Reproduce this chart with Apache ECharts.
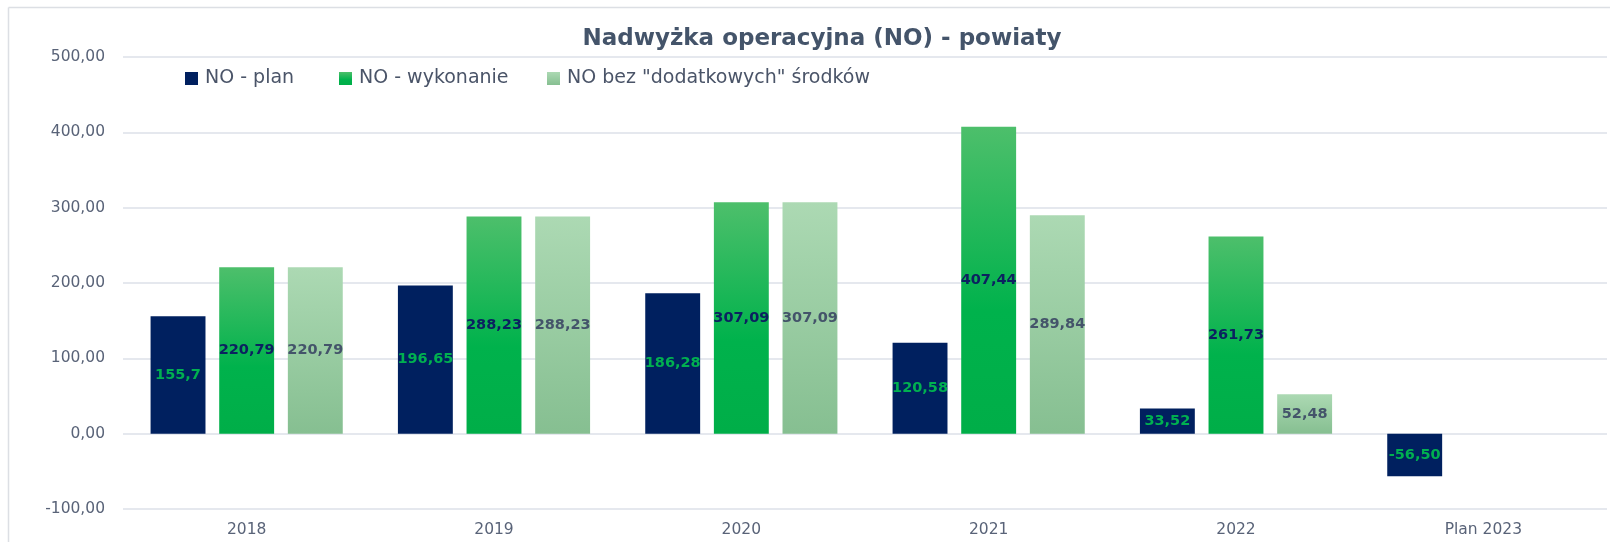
<!DOCTYPE html>
<html>
<head>
<meta charset="utf-8">
<script src="https://cdn.jsdelivr.net/npm/echarts@6/dist/echarts.min.js"></script>
<style>
  html, body { margin: 0; padding: 0; background: #fff; }
  #chart { width: 1610px; height: 542px; }
</style>
</head>
<body>
<div id="chart"></div>
<script>
  // kategorie i dane (mln zł)
  var years = ['2018', '2019', '2020', '2021', '2022', 'Plan 2023']
  var seriesNames = ['NO - plan', 'NO - wykonanie', 'NO bez "dodatkowych" środków']
  var noPlan = [155.7, 196.65, 186.28, 120.58, 33.52, -56.50]
  var planDecimals = [1, 2, 2, 2, 2, 2]
  var noWykonanie = [220.79, 288.23, 307.09, 407.44, 261.73, null]
  var noBezDodatkowych = [220.79, 288.23, 307.09, 289.84, 52.48, null]
  var yTicks = { min: -100, max: 500, step: 100 }

  var font = 'DejaVu Sans'
  var greyText = '#596378'

  function fmt(v, d) {
    return v.toFixed(d).replace('.', ',')
  }

  // każdy wpis legendy osobno, żeby trafić w pozycje z oryginału
  var legendLeft = [180, 334, 542]
  var legends = seriesNames.map(function (name, i) {
    return {
      left: legendLeft[i],
      top: 64,
      itemWidth: 13,
      itemHeight: 13,
      icon: 'rect',
      textStyle: { fontFamily: font, fontSize: 19, color: '#4a5468', padding: [0, 0, 0, 2] },
      data: [name]
    }
  })

  var myChart = echarts.init(document.getElementById('chart'))
  var option = {
    animation: false,
    title: {
      text: 'Nadwyżka operacyjna (NO) - powiaty',
      left: 817,
      textAlign: 'center',
      top: 23,
      textStyle: { fontFamily: font, fontSize: 23, fontWeight: 'bold', color: '#44546a' }
    },
    legend: legends,
    graphic: [
      { type: 'line', shape: { x1: 8.5, y1: 7.5, x2: 8.5, y2: 542 }, style: { stroke: '#dcdfe4', lineWidth: 1.5 } },
      { type: 'line', shape: { x1: 8.5, y1: 7.5, x2: 1610, y2: 7.5 }, style: { stroke: '#dcdfe4', lineWidth: 1.5 } }
    ],
    grid: { left: 123, right: 3, top: 57, bottom: 33 },
    xAxis: {
      type: 'category',
      data: years,
      axisLine: { show: false, onZero: false },
      axisTick: { show: false },
      axisLabel: { margin: 13, fontFamily: font, fontSize: 15.5, color: greyText }
    },
    yAxis: {
      type: 'value',
      min: yTicks.min,
      max: yTicks.max,
      interval: yTicks.step,
      axisLine: { show: false },
      axisTick: { show: false },
      axisLabel: {
        margin: 18,
        fontFamily: font,
        fontSize: 15.5,
        color: greyText,
        formatter: function (v) { return fmt(v, 2) }
      },
      splitLine: { lineStyle: { color: '#dde1e8', width: 1.5 } }
    },
    series: [
      {
        name: seriesNames[0],
        type: 'bar',
        barWidth: '22.2%',
        barGap: '25%',
        data: noPlan,
        itemStyle: { color: '#00205f' },
        label: {
          show: true,
          position: 'inside',
          fontFamily: font,
          fontSize: 14.5,
          fontWeight: 'bold',
          color: '#00b050',
          formatter: function (p) { return fmt(p.value, planDecimals[p.dataIndex]) }
        }
      },
      {
        name: seriesNames[1],
        type: 'bar',
        barWidth: '22.2%',
        data: noWykonanie,
        itemStyle: {
          color: new echarts.graphic.LinearGradient(0, 0, 0, 1, [
            { offset: 0, color: '#4dbf6b' },
            { offset: 0.6, color: '#00b24c' },
            { offset: 1, color: '#00ae48' }
          ])
        },
        label: {
          show: true,
          position: 'inside',
          fontFamily: font,
          fontSize: 14.5,
          fontWeight: 'bold',
          color: '#0b2160',
          formatter: function (p) { return fmt(p.value, 2) }
        }
      },
      {
        name: seriesNames[2],
        type: 'bar',
        barWidth: '22.2%',
        data: noBezDodatkowych,
        itemStyle: {
          color: new echarts.graphic.LinearGradient(0, 0, 0, 1, [
            { offset: 0, color: '#acd9b3' },
            { offset: 1, color: '#86bf91' }
          ])
        },
        label: {
          show: true,
          position: 'inside',
          fontFamily: font,
          fontSize: 14.5,
          fontWeight: 'bold',
          color: '#44546a',
          formatter: function (p) { return fmt(p.value, 2) }
        }
      }
    ]
  }
  myChart.setOption(option)
</script>
</body>
</html>
